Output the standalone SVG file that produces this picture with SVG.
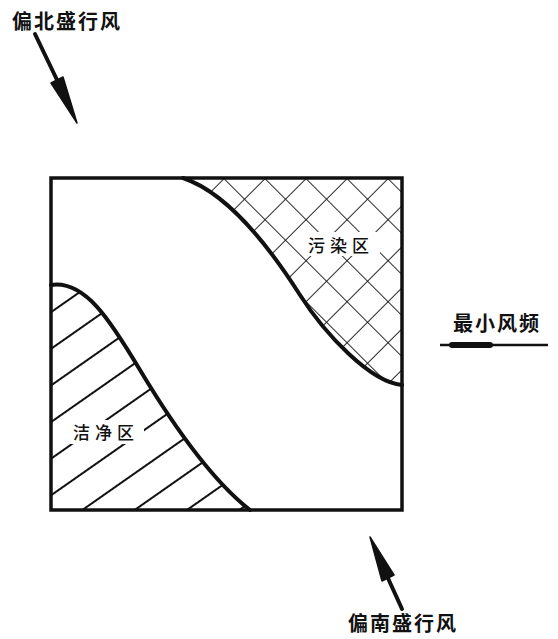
<svg xmlns="http://www.w3.org/2000/svg" width="558" height="639" viewBox="0 0 558 639">
<style>
.lbl{font-family:"Noto Sans CJK SC","Noto Sans",sans-serif;fill:#111;}
.big{font-size:20px;font-weight:bold;letter-spacing:2px;}
.zone{font-size:17px;font-weight:500;letter-spacing:5px;}
.edge{fill:none;stroke:#111;stroke-width:4;stroke-linejoin:round;stroke-linecap:round;}
.hatch{stroke:#111;stroke-width:1.8;}
</style>
<defs>
<pattern id="single" width="40" height="30" patternUnits="userSpaceOnUse" patternTransform="rotate(-35)">
<line class="hatch" x1="0" y1="15" x2="40" y2="15"/>
</pattern>
<pattern id="cross" width="29" height="29" patternUnits="userSpaceOnUse" patternTransform="translate(183,178) rotate(45)">
<line class="hatch" x1="0" y1="0" x2="29" y2="0"/>
<line class="hatch" x1="0" y1="0" x2="0" y2="29"/>
</pattern>
</defs>
<rect width="558" height="639" fill="#fff"/>
<g id="polluted-zone">
<path d="M183,178 C225,192 265,240 300,295 C325,334 370,382 402,385 L402,178 Z" fill="url(#cross)"/>
<rect x="304" y="232" width="76" height="24" fill="#fff"/>
<path class="edge" d="M183,178 C225,192 265,240 300,295 C325,334 370,382 402,385"/>
<text class="lbl zone" x="308" y="252">污染区</text>
</g>
<g id="clean-zone">
<path d="M51,285 C85,280 110,320 140,370 C164,410 205,475 250,510 L51,510 Z" fill="url(#single)"/>
<rect x="70" y="420" width="74" height="24" fill="#fff"/>
<path class="edge" d="M51,285 C85,280 110,320 140,370 C164,410 205,475 250,510"/>
<text class="lbl zone" x="73" y="439">洁净区</text>
</g>
<g id="frame">
<rect x="51" y="178" width="351" height="332" fill="none" stroke="#111" stroke-width="3.5"/>
</g>
<g id="north-wind">
<text class="lbl big" x="12" y="29">偏北盛行风</text>
</g>
<g id="south-wind">
<text class="lbl big" x="348" y="631">偏南盛行风</text>
</g>
<g id="min-freq">
<text class="lbl big" x="453" y="331">最小风频</text>
<line x1="440" y1="345" x2="548" y2="345" stroke="#111" stroke-width="2.5"/>
<line x1="452" y1="345" x2="490" y2="345" stroke="#111" stroke-width="6" stroke-linecap="round"/>
</g>
<g id="connectors">
<line x1="35" y1="34" x2="58" y2="82" stroke="#111" stroke-width="4" stroke-linecap="round"/>
<polygon points="63,77 51,83 77,123" fill="#111" stroke="#111" stroke-width="1.5" stroke-linejoin="round"/>
<line x1="402" y1="609" x2="387" y2="576" stroke="#111" stroke-width="4" stroke-linecap="round"/>
<polygon points="394,575 382,581 370,537" fill="#111" stroke="#111" stroke-width="1.5" stroke-linejoin="round"/>
</g>
</svg>
